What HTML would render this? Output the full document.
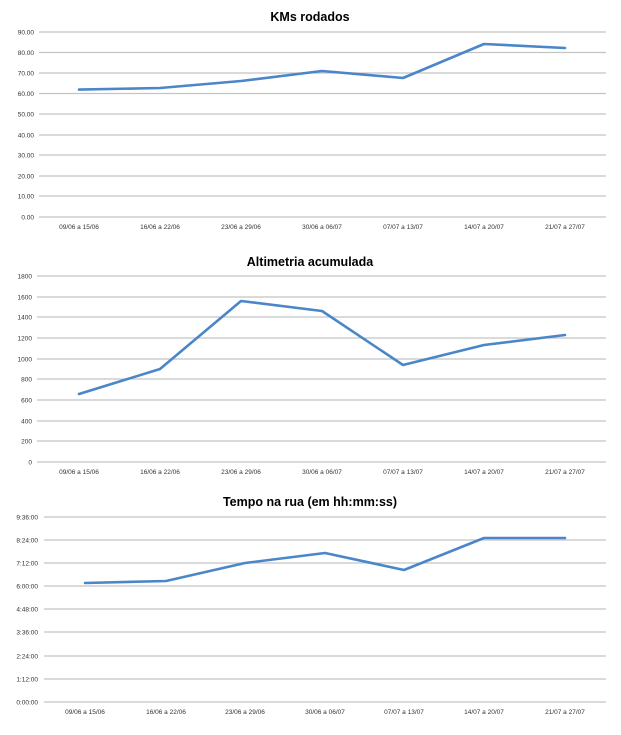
<!DOCTYPE html><html><head><style>body{margin:0;background:#fff}svg text{font-family:"Liberation Sans",sans-serif}</style></head><body>
<svg width="621" height="730" xmlns="http://www.w3.org/2000/svg">
<g stroke="#c3c3c3" stroke-width="1.3">
<line x1="39" x2="606" y1="32" y2="32"/><line x1="39" x2="606" y1="52.5" y2="52.5"/><line x1="39" x2="606" y1="73" y2="73"/><line x1="39" x2="606" y1="93.5" y2="93.5"/><line x1="39" x2="606" y1="114" y2="114"/><line x1="39" x2="606" y1="135" y2="135"/><line x1="39" x2="606" y1="155" y2="155"/><line x1="39" x2="606" y1="176" y2="176"/><line x1="39" x2="606" y1="196" y2="196"/><line x1="39" x2="606" y1="217" y2="217"/>
<line x1="37" x2="606" y1="276" y2="276"/><line x1="37" x2="606" y1="297" y2="297"/><line x1="37" x2="606" y1="317" y2="317"/><line x1="37" x2="606" y1="338" y2="338"/><line x1="37" x2="606" y1="359" y2="359"/><line x1="37" x2="606" y1="379" y2="379"/><line x1="37" x2="606" y1="400" y2="400"/><line x1="37" x2="606" y1="421" y2="421"/><line x1="37" x2="606" y1="441" y2="441"/><line x1="37" x2="606" y1="462" y2="462"/>
<line x1="44" x2="606" y1="517" y2="517"/><line x1="44" x2="606" y1="540" y2="540"/><line x1="44" x2="606" y1="563" y2="563"/><line x1="44" x2="606" y1="586" y2="586"/><line x1="44" x2="606" y1="609" y2="609"/><line x1="44" x2="606" y1="632" y2="632"/><line x1="44" x2="606" y1="656" y2="656"/><line x1="44" x2="606" y1="679" y2="679"/><line x1="44" x2="606" y1="702" y2="702"/>
</g>
<g fill="none" stroke="#4a86c8" stroke-width="2.6" stroke-linejoin="round" stroke-linecap="round">
<polyline points="79,89.6 160,88 241,81 322,71 403,78 484,44 565,48"/>
<polyline points="79,394 160,369 241,301 322,311 403,365 484,345 565,335"/>
<polyline points="85,583 166,581 245,563 325,553 404,570 484,538 565,538"/>
</g>
<g font-weight="bold" font-size="12.5" text-anchor="middle" fill="#000">
<text x="310" y="21">KMs rodados</text><text x="310" y="266">Altimetria acumulada</text><text x="310" y="506">Tempo na rua (em hh:mm:ss)</text>
</g>
<g font-size="6.5" fill="#333" text-anchor="end">
<text x="34" y="34.5">90.00</text><text x="34" y="55">80.00</text><text x="34" y="75.5">70.00</text><text x="34" y="96">60.00</text><text x="34" y="116.5">50.00</text><text x="34" y="137.5">40.00</text><text x="34" y="157.5">30.00</text><text x="34" y="178.5">20.00</text><text x="34" y="198.5">10.00</text><text x="34" y="219.5">0.00</text>
<text x="32" y="278.5">1800</text><text x="32" y="299.5">1600</text><text x="32" y="319.5">1400</text><text x="32" y="340.5">1200</text><text x="32" y="361.5">1000</text><text x="32" y="381.5">800</text><text x="32" y="402.5">600</text><text x="32" y="423.5">400</text><text x="32" y="443.5">200</text><text x="32" y="464.5">0</text>
<text x="38" y="519.5">9:36:00</text><text x="38" y="542.5">8:24:00</text><text x="38" y="565.5">7:12:00</text><text x="38" y="588.5">6:00:00</text><text x="38" y="611.5">4:48:00</text><text x="38" y="634.5">3:36:00</text><text x="38" y="658.5">2:24:00</text><text x="38" y="681.5">1:12:00</text><text x="38" y="704.5">0:00:00</text>
</g>
<g font-size="6.5" fill="#333" text-anchor="middle">
<text x="79" y="229">09/06 a 15/06</text><text x="160" y="229">16/06 a 22/06</text><text x="241" y="229">23/06 a 29/06</text><text x="322" y="229">30/06 a 06/07</text><text x="403" y="229">07/07 a 13/07</text><text x="484" y="229">14/07 a 20/07</text><text x="565" y="229">21/07 a 27/07</text>
<text x="79" y="474">09/06 a 15/06</text><text x="160" y="474">16/06 a 22/06</text><text x="241" y="474">23/06 a 29/06</text><text x="322" y="474">30/06 a 06/07</text><text x="403" y="474">07/07 a 13/07</text><text x="484" y="474">14/07 a 20/07</text><text x="565" y="474">21/07 a 27/07</text>
<text x="85" y="714">09/06 a 15/06</text><text x="166" y="714">16/06 a 22/06</text><text x="245" y="714">23/06 a 29/06</text><text x="325" y="714">30/06 a 06/07</text><text x="404" y="714">07/07 a 13/07</text><text x="484" y="714">14/07 a 20/07</text><text x="565" y="714">21/07 a 27/07</text>
</g>
</svg></body></html>
